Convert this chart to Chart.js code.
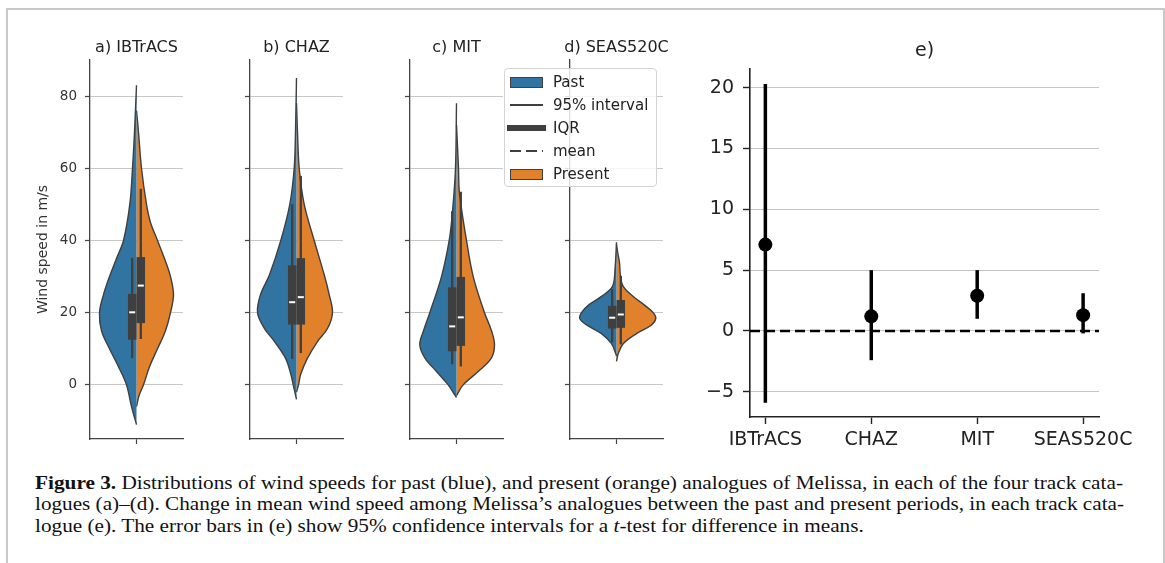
<!DOCTYPE html>
<html>
<head>
<meta charset="utf-8">
<script src="https://cdn.jsdelivr.net/npm/chart.js@4.4.1/dist/chart.umd.min.js"></script>
<style>
  body { margin: 0; background: #fff; width: 1165px; height: 563px; overflow: hidden; position: relative; font-family: "DejaVu Sans", sans-serif; }
  canvas { position: absolute; }
  #frame { position: absolute; left: 6px; top: 8px; width: 1155px; height: 560px; border: 2px solid #c8c8c8; border-bottom: none; }
  #legend { position: absolute; left: 504px; top: 68px; width: 151px; height: 117px; border: 1px solid #d4d4d4; border-radius: 4px; background: rgba(255,255,255,0.82); z-index: 5; }
  #legend .sw { position: absolute; box-sizing: border-box; }
  #legend .lbl { position: absolute; left: 48px; font-size: 15px; line-height: 18px; color: #222; white-space: nowrap; }
  .cap { position: absolute; left: 35px; white-space: nowrap; font-family: "Liberation Serif", serif; font-size: 18px; line-height: 20px; color: #111; transform-origin: 0 50%; }
</style>
</head>
<body>
<div id="frame"></div>
<canvas id="violinA"></canvas>
<canvas id="violinB"></canvas>
<canvas id="violinC"></canvas>
<canvas id="violinD"></canvas>
<canvas id="changeChart"></canvas>
<div id="legend"></div>
<span class="cap" style="top:473px"><b>Figure 3.</b> Distributions of wind speeds for past (blue), and present (orange) analogues of Melissa, in each of the four track cata-</span>
<span class="cap" style="top:494px">logues (a)–(d). Change in mean wind speed among Melissa’s analogues between the past and present periods, in each track cata-</span>
<span class="cap" style="top:516px">logue (e). The error bars in (e) show 95% confidence intervals for a <i>t</i>-test for difference in means.</span>
<script>
Chart.defaults.font.family = 'DejaVu Sans';

const catalogues = ['IBTrACS', 'CHAZ', 'MIT', 'SEAS520C'];
const panelTitles = ['a) IBTrACS', 'b) CHAZ', 'c) MIT', 'd) SEAS520C'];
const legendLabels = ['Past', '95% interval', 'IQR', 'mean', 'Present'];

// violin outlines, [wind speed, half width of the density]
const ibtracsPast = [[-11, 0], [-6, 5], [0, 10], [5, 18], [10, 27], [15, 35], [20, 37], [25, 33], [30, 27], [35, 20], [40, 13], [50, 6.7], [60, 4], [70, 2], [83, 0]];
const ibtracsPresent = [[-6, 0], [-3, 2.5], [0, 7], [5, 13], [10, 21], [15, 29], [20, 34], [25, 37], [30, 34], [35, 28], [40, 21], [45, 14], [50, 10], [60, 5], [70, 2], [76, 0]];
const chazPast = [[-4, 0], [0, 3.3], [3, 5.7], [7.4, 11], [12, 22], [15.6, 32], [20, 39], [25, 36], [30.5, 27], [40, 15.7], [50, 6.7], [60, 2.3], [70, 1], [85, 0]];
const chazPresent = [[-2, 0], [0, 2], [3, 4.3], [7.4, 11], [12, 21], [15.6, 31], [20, 36], [25, 32.7], [30.5, 27.7], [40, 17.7], [50, 7.7], [60, 2.7], [70, 1], [78, 0]];
const mitPast = [[-3.5, 0], [-2.8, 1.7], [0, 8.3], [3.7, 20], [7.5, 31.7], [11.2, 36.7], [15, 33], [20, 26.7], [30, 15], [40, 7.3], [48, 4], [60, 1], [78, 0]];
const mitPresent = [[-3, 0], [-2.5, 1], [0, 6.7], [3.7, 21.7], [7.5, 35], [11.2, 38], [15, 35], [20, 28], [30, 16.7], [40, 10], [53, 3], [60, 2], [72, 0]];
const seasPast = [[8, 0], [8.6, 0.7], [11.4, 5], [14.2, 15], [16.6, 30], [18.4, 36.7], [20, 35], [22.1, 28], [24.5, 15], [27.3, 4], [32, 1.5], [39.5, 0]];
const seasPresent = [[6.5, 0], [8.6, 1.7], [11.4, 6.7], [14.2, 20], [16.6, 35], [18.4, 39.3], [20, 36.7], [22.1, 28], [24.5, 16.7], [27.3, 6.7], [30, 4], [33.8, 3], [37, 1], [39, 0]];

// inner boxes, [2.5%, q1, mean, q3, 97.5%]
const ibtracsPastBox = [7.4, 12.5, 20.1, 25.2, 35.2];
const ibtracsPresentBox = [12.7, 17.1, 27.5, 35.4, 54.3];
const chazPastBox = [7.2, 16.7, 22.9, 33.1, 50.0];
const chazPresentBox = [8.8, 16.7, 24.3, 35.1, 57.9];
const mitPastBox = [5.7, 9.3, 16.2, 27.0, 48.1];
const mitPresentBox = [5.1, 10.8, 18.7, 29.9, 53.5];
const seasPastBox = [11.8, 15.6, 18.6, 21.9, 26.5];
const seasPresentBox = [11.2, 15.8, 19.5, 23.5, 30.2];

// panel e: change in mean and 95% CI
const meanChange = [7.1, 1.2, 2.9, 1.3];
const ciLow = [-5.9, -2.4, 1.0, -0.2];
const ciHigh = [20.3, 5.0, 5.0, 3.1];

const pastColor = '#3274a1';
const presentColor = '#e1812c';
const lineGrey = '#3f3f3f';

function halfViolin(points, side, color) {
    return {
        data: points.map(p => ({x: side * p[1], y: p[0]})),
        showLine: true, fill: 'shape', tension: 0.35,
        backgroundColor: color, borderColor: lineGrey, borderWidth: 1.4,
        pointRadius: 0, order: 5
    };
}

function boxParts(b, side) {
    const c = side * 4.3;
    return [
        {data: [{x: c, y: b[0]}, {x: c, y: b[4]}], showLine: true, borderColor: lineGrey, borderWidth: 2.3, pointRadius: 0, order: 3},
        {data: [{x: c, y: b[1]}, {x: c, y: b[3]}], showLine: true, borderColor: lineGrey, borderWidth: 8.5, pointRadius: 0, order: 2},
        {data: [{x: c - 3, y: b[2]}, {x: c + 3, y: b[2]}], showLine: true, borderColor: '#fff', borderWidth: 2, pointRadius: 0, order: 1}
    ];
}

function violinChart(id, axisX, yWidth, title, past, present, pastBox, presentBox, labels) {
    let cv = document.getElementById(id);
    // an empty axis on the right keeps the plot area centred under the title
    cv.width = yWidth * 2 + 93;
    cv.height = 430;
    cv.style.left = (axisX - yWidth) + 'px';
    cv.style.top = '29px';
    new Chart(cv, {
        type: 'scatter',
        data: {
            datasets: [halfViolin(past, -1, pastColor), halfViolin(present, 1, presentColor)]
                .concat(boxParts(pastBox, -1), boxParts(presentBox, 1))
        },
        options: {
            responsive: false,
            animation: false,
            events: [],
            layout: {padding: 0},
            plugins: {
                legend: {display: false},
                tooltip: {enabled: false},
                title: {
                    display: true, text: title, color: '#222',
                    font: {size: 16, weight: 'normal', lineHeight: '20px'},
                    padding: {top: 9, bottom: 2}
                }
            },
            scales: {
                x: {
                    type: 'linear', min: -46.5, max: 46.5,
                    afterBuildTicks: s => { s.ticks = [{value: 0}]; },
                    afterFit: s => { s.height = 20; },
                    ticks: {display: false},
                    grid: {drawOnChartArea: false, tickLength: 5, tickColor: '#444', tickWidth: 1.2},
                    border: {color: '#444', width: 1.3}
                },
                y: {
                    min: -15, max: 90,
                    afterFit: s => { s.width = yWidth; },
                    ticks: {display: labels, stepSize: 20, includeBounds: false, padding: 8, color: '#333', font: {size: 13.5}},
                    grid: {color: '#c8c8c8', lineWidth: 1, tickLength: 5, tickColor: '#444', tickWidth: 1.2},
                    border: {color: '#444', width: 1.3},
                    title: {display: labels, text: 'Wind speed in m/s', color: '#333', font: {size: 14}, padding: {top: 35, bottom: 0}}
                },
                yRight: {
                    position: 'right', min: -15, max: 90,
                    afterFit: s => { s.width = yWidth; },
                    ticks: {display: false},
                    grid: {display: false, drawTicks: false},
                    border: {display: false}
                }
            }
        }
    });
}

violinChart('violinA', 90, 90, panelTitles[0], ibtracsPast, ibtracsPresent, ibtracsPastBox, ibtracsPresentBox, true);
violinChart('violinB', 250, 20, panelTitles[1], chazPast, chazPresent, chazPastBox, chazPresentBox, false);
violinChart('violinC', 410, 20, panelTitles[2], mitPast, mitPresent, mitPastBox, mitPresentBox, false);
violinChart('violinD', 570, 20, panelTitles[3], seasPast, seasPresent, seasPastBox, seasPresentBox, false);

// panel e
const xMin = -0.145, xMax = 3.15;
let ce = document.getElementById('changeChart');
ce.width = 479;
ce.height = 436;
ce.style.left = '680px';
ce.style.top = '31px';

let eSets = catalogues.map((c, i) => ({
    data: [{x: i, y: ciLow[i]}, {x: i, y: ciHigh[i]}],
    showLine: true, borderColor: '#000', borderWidth: 3.5, pointRadius: 0, order: 2
}));
eSets.push({
    data: [{x: xMin, y: 0}, {x: xMax, y: 0}],
    showLine: true, borderColor: '#000', borderWidth: 2.5, borderDash: [10, 5], pointRadius: 0, order: 3
});
eSets.push({
    data: meanChange.map((m, i) => ({x: i, y: m})),
    pointRadius: 7, pointBackgroundColor: '#000', pointBorderWidth: 0, order: 1
});

new Chart(ce, {
    type: 'scatter',
    data: {datasets: eSets},
    options: {
        responsive: false,
        animation: false,
        events: [],
        layout: {padding: {right: 60}},
        plugins: {
            legend: {display: false},
            tooltip: {enabled: false},
            title: {
                display: true, text: 'e)', fullSize: false, color: '#222',
                font: {size: 19, weight: 'normal', lineHeight: '24px'},
                padding: {top: 8, bottom: 6}
            }
        },
        scales: {
            x: {
                type: 'linear', min: xMin, max: xMax,
                afterBuildTicks: s => { s.ticks = catalogues.map((c, i) => ({value: i})); },
                afterFit: s => { s.height = 50; },
                ticks: {callback: v => catalogues[v], color: '#222', font: {size: 19}, padding: 5, maxRotation: 0, autoSkip: false},
                grid: {drawOnChartArea: false, tickLength: 7, tickColor: '#222', tickWidth: 1.4},
                border: {color: '#222', width: 1.6}
            },
            y: {
                min: -7.07, max: 21.53,
                afterFit: s => { s.width = 70; },
                ticks: {stepSize: 5, includeBounds: false, padding: 9, color: '#222', font: {size: 19},
                        callback: v => String(v).replace('-', '\u2212')},
                grid: {color: '#c4c4c4', lineWidth: 1, tickLength: 7, tickColor: '#222', tickWidth: 1.4},
                border: {color: '#222', width: 1.6}
            }
        }
    }
});

// legend (html)
const legendTop = [13, 36, 59, 82, 105];
let lg = document.getElementById('legend');
legendLabels.forEach((txt, i) => {
    let sw = document.createElement('div');
    sw.className = 'sw';
    let y = legendTop[i];
    if (i === 0 || i === 4) {
        sw.style.cssText = `left:5px;top:${y - 5.5}px;width:33px;height:11px;border:1px solid ${lineGrey};background:${i === 0 ? pastColor : presentColor}`;
    } else if (i === 1) {
        sw.style.cssText = `left:5px;top:${y - 1}px;width:33px;height:2px;background:${lineGrey}`;
    } else if (i === 2) {
        sw.style.cssText = `left:2px;top:${y - 3}px;width:39px;height:6px;background:${lineGrey}`;
    } else {
        sw.style.cssText = `left:5px;top:${y - 1}px;width:33px;height:2px;background:repeating-linear-gradient(90deg, ${lineGrey} 0 11px, transparent 11px 16px)`;
    }
    lg.appendChild(sw);
    let lb = document.createElement('div');
    lb.className = 'lbl';
    lb.style.top = (y - 9) + 'px';
    lb.textContent = txt;
    lg.appendChild(lb);
});

// caption: stretch lines to the printed widths
const capWidths = [1088, 1089];
let caps = document.querySelectorAll('.cap');
let factors = [];
caps.forEach((el, i) => {
    let w = el.getBoundingClientRect().width;
    if (i < capWidths.length) {
        factors.push(capWidths[i] / w);
        el.style.transform = `scaleX(${capWidths[i] / w})`;
    } else {
        let f = factors.reduce((a, b) => a + b, 0) / factors.length;
        el.style.transform = `scaleX(${f})`;
    }
});
</script>
</body>
</html>
